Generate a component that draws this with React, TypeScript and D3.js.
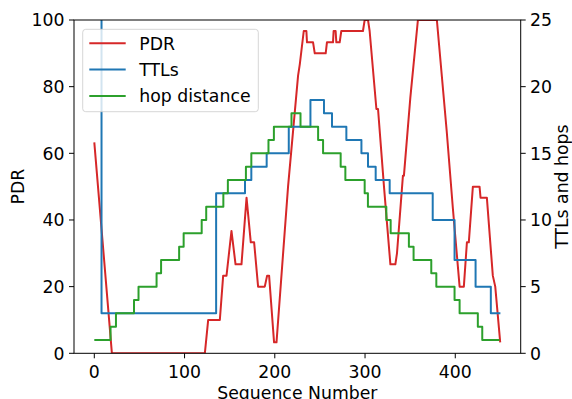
import React from "react";
import * as d3 from "d3";

const pdrSeq = [0, 19.5, 122.5, 126.2, 139.1, 142.8, 146.5, 152, 156.5, 163.1, 168.7, 173.4, 177.1, 181.5, 188.9, 191.5, 193.7, 199.2, 201.9, 214.7, 225.8, 227.7, 232.1, 235, 235.7, 242.4, 244.3, 256.4, 257.8, 264.5, 265.2, 267.4, 268.2, 271.9, 273.7, 297.7, 299.6, 303.3, 305.1, 312.6, 314.4, 321, 328.1, 333.6, 335.4, 342, 343.1, 350.2, 358.6, 379.6, 390.5, 397.4, 404.8, 409.5, 412.9, 415, 419.5, 426.9, 428, 435, 441.6, 444.3, 449.8];
const pdrVal = [63.3, 0, 0, 10, 10, 23.3, 23.3, 36.7, 26.7, 26.7, 46.7, 33.3, 33.3, 20, 20, 23.3, 23.3, 3.3, 3.3, 50, 83.3, 86.7, 96.7, 96.7, 93.3, 93.3, 90, 90, 93.3, 93.3, 96.7, 96.7, 93.3, 93.3, 96.7, 96.7, 100, 100, 96.7, 73.3, 73.3, 50, 26.7, 26.7, 30, 53.3, 53.3, 76.7, 100, 100, 66.7, 43.3, 20, 20, 33.3, 33.3, 50, 50, 46.7, 46.7, 23.3, 20, 3.3];

const ttlSeq = [0, 8, 135, 167, 174, 191, 215.5, 239.5, 254.5, 263.4, 279.3, 296, 303.3, 311.8, 327.3, 375, 399.2, 422.5, 439.4, 450];
const ttlVal = [64, 3, 12, 13, 14, 15, 17, 19, 18, 17, 16, 15, 14, 13, 12, 10, 7, 5, 3, 3];

const hopSeq = [0, 18, 24, 44, 49, 69, 74, 94, 99, 119, 124, 143, 148, 168, 174, 193, 199, 218.5, 228.5, 248, 253.5, 273, 278.2, 299.6, 303.2, 323.6, 328.4, 348.6, 353.8, 373.4, 379, 399.2, 404.8, 425, 429.9, 449];
const hopVal = [1, 2, 3, 4, 5, 6, 7, 8, 9, 10, 11, 12, 13, 14, 15, 16, 17, 18, 17, 16, 15, 14, 13, 12, 11, 10, 9, 8, 7, 6, 5, 4, 3, 2, 1, 1];

const xTicks = [0, 100, 200, 300, 400];
const leftTicks = [0, 20, 40, 60, 80, 100];
const rightTicks = [0, 5, 10, 15, 20, 25];

const RED = "#d62728";
const BLUE = "#1f77b4";
const GREEN = "#2ca02c";
const FONT = "DejaVu Sans";
const FS = 17.3;

export default function App() {
  const L = 74, R = 520.7, T = 20, B = 353.3;
  const x = d3.scaleLinear().domain([-22.5, 472.5]).range([L, R]);
  const yL = d3.scaleLinear().domain([0, 100]).range([B, T]);
  const yR = d3.scaleLinear().domain([0, 25]).range([B, T]);

  const pdrLine = d3.line<number>().x((_, i) => x(pdrSeq[i])).y((v) => yL(v))(pdrVal) || "";
  const ttlLine = d3.line<number>().curve(d3.curveStepAfter).x((_, i) => x(ttlSeq[i])).y((v) => yR(v))(ttlVal) || "";
  const hopLine = d3.line<number>().curve(d3.curveStepAfter).x((_, i) => x(hopSeq[i])).y((v) => yR(v))(hopVal) || "";

  const legend = [
    { label: "PDR", color: RED },
    { label: "TTLs", color: BLUE },
    { label: "hop distance", color: GREEN },
  ];

  return (
    <div style={{ position: "absolute", left: 0, top: 0 }}>
      <svg width={572} height={399} style={{ display: "block" }} fontFamily={FONT}>
        <rect width={572} height={399} fill="#fff" />
        <defs>
          <clipPath id="plot">
            <rect x={L} y={T} width={R - L} height={B - T} />
          </clipPath>
        </defs>
        <g clipPath="url(#plot)" fill="none" strokeWidth={2} strokeLinejoin="round">
          <path d={pdrLine} stroke={RED} />
          <path d={ttlLine} stroke={BLUE} />
          <path d={hopLine} stroke={GREEN} />
        </g>
        <rect x={L} y={T} width={R - L} height={B - T} fill="none" stroke="#000" strokeWidth={1} />
        {xTicks.map((t) => (
          <g key={"x" + t}>
            <line x1={x(t)} x2={x(t)} y1={B} y2={B + 5} stroke="#000" strokeWidth={1} />
            <text x={x(t)} y={378} fontSize={FS} textAnchor="middle" fill="#000">{t}</text>
          </g>
        ))}
        {leftTicks.map((t) => (
          <g key={"l" + t}>
            <line x1={L - 5} x2={L} y1={yL(t)} y2={yL(t)} stroke="#000" strokeWidth={1} />
            <text x={64.5} y={yL(t) + 6.3} fontSize={FS} textAnchor="end" fill="#000">{t}</text>
          </g>
        ))}
        {rightTicks.map((t) => (
          <g key={"r" + t}>
            <line x1={R} x2={R + 5} y1={yR(t)} y2={yR(t)} stroke="#000" strokeWidth={1} />
            <text x={530} y={yR(t) + 6.3} fontSize={FS} textAnchor="start" fill="#000">{t}</text>
          </g>
        ))}
        <text x={(L + R) / 2} y={398.5} fontSize={FS} textAnchor="middle" fill="#000">Sequence Number</text>
        <text transform={`translate(24, ${(T + B) / 2}) rotate(-90)`} fontSize={FS} textAnchor="middle" fill="#000">PDR</text>
        <text transform={`translate(567.5, ${(T + B) / 2}) rotate(-90)`} fontSize={FS} textAnchor="middle" fill="#000">TTLs and hops</text>
        <rect x={82.7} y={29.3} width={175.6} height={82.4} rx={3} fill="#fff" fillOpacity={0.8} stroke="#cccccc" strokeOpacity={0.8} strokeWidth={1} />
        {legend.map((e, i) => {
          const cy = 43.3 + i * 26.3;
          return (
            <g key={e.label}>
              <line x1={89.3} x2={125.7} y1={cy} y2={cy} stroke={e.color} strokeWidth={2} />
              <text x={139.3} y={cy + 6.5} fontSize={FS} fill="#000">{e.label}</text>
            </g>
          );
        })}
      </svg>
    </div>
  );
}
